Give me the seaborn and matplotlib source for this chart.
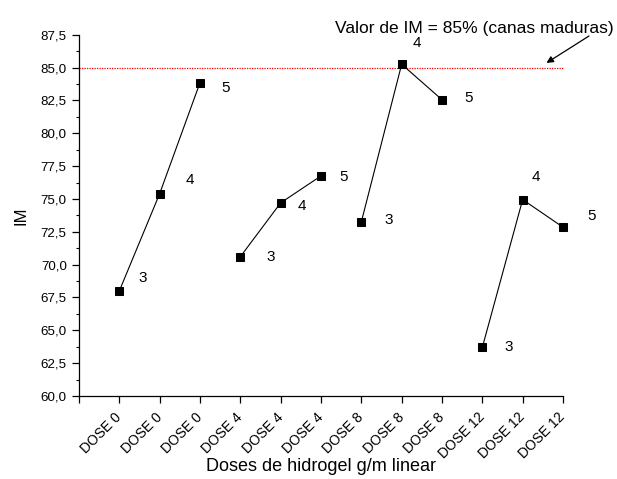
import matplotlib
matplotlib.use("Agg")
import matplotlib.pyplot as plt
import seaborn as sns
import pandas as pd
import numpy as np
from matplotlib.ticker import MultipleLocator, FixedLocator, FuncFormatter

# ---- data ----
categories = ["DOSE 0", "DOSE 0", "DOSE 0", "DOSE 4", "DOSE 4", "DOSE 4",
              "DOSE 8", "DOSE 8", "DOSE 8", "DOSE 12", "DOSE 12", "DOSE 12"]
im_values = [68.0, 75.4, 83.85, 70.6, 74.7, 76.75, 73.25, 85.25, 82.55,
             63.7, 74.95, 72.85]
point_labels = ["3", "4", "5", "3", "4", "5", "3", "4", "5", "3", "4", "5"]
reference_value = 85.0
reference_text = "Valor de IM = 85% (canas maduras)"

# label offsets (pixels, relative to each point)
label_offsets = [(23, 13), (30, 14), (26, -5), (30, 0), (21, -3), (23, -1),
                 (27, 2), (15, 21), (27, 2), (26, 0), (13, 23), (29, 11)]

sns.set_style("ticks")
plt.rcParams['font.family'] = ['Liberation Sans', 'DejaVu Sans']
plt.rcParams['text.color'] = 'black'
plt.rcParams['axes.labelcolor'] = 'black'
plt.rcParams['xtick.color'] = 'black'
plt.rcParams['ytick.color'] = 'black'

df = pd.DataFrame({
    "pos": np.arange(1, len(categories) + 1),
    "IM": im_values,
    "grupo": categories,
})

W, H = 617, 479
fig = plt.figure(figsize=(W / 100, H / 100), dpi=100)
ax = fig.add_axes([79 / W, 1 - 396 / H, (563 - 79) / W, (396 - 34.7) / H])

ax.axhline(reference_value, color="red", linestyle=(0, (1, 1)), linewidth=0.9, zorder=1)

sns.lineplot(data=df, x="pos", y="IM", hue="grupo", units="grupo", estimator=None,
             palette=["black"] * 4, legend=False, marker="s", markersize=5.8,
             markeredgecolor="black", linewidth=0.8, ax=ax, zorder=3)
for ln in ax.lines:
    ln.set_clip_on(False)

for (x, y, t, off) in zip(df["pos"], df["IM"], point_labels, label_offsets):
    ax.annotate(t, (x, y), xytext=off, textcoords="offset pixels",
                ha="center", va="center", fontsize=11, annotation_clip=False)

ax.annotate("", xy=(11.59, 85.35), xycoords="data",
            xytext=(589, H - 36), textcoords="figure pixels",
            arrowprops=dict(arrowstyle="-|>", color="black", lw=0.9,
                            mutation_scale=10, shrinkA=0, shrinkB=0),
            annotation_clip=False)
fig.text(614 / W, 1 - 28.5 / H, reference_text, ha="right", va="center", fontsize=12.5)

ax.set_xlim(0, 12)
ax.set_ylim(60, 87.5)
ax.xaxis.set_major_locator(FixedLocator(np.arange(0, 13)))
ax.set_xticklabels([""] + categories, rotation=45, ha="right", va="center",
                   rotation_mode="anchor", fontsize=10)
ax.yaxis.set_major_locator(MultipleLocator(2.5))
ax.yaxis.set_minor_locator(MultipleLocator(1.25))
ax.yaxis.set_major_formatter(FuncFormatter(lambda v, p: f"{v:.1f}".replace(".", ",")))
ax.tick_params(axis="y", which="major", length=4.8, width=0.9, labelsize=9.6, pad=4)
ax.tick_params(axis="y", which="minor", length=2.4, width=0.8)
ax.tick_params(axis="x", which="major", length=5, width=0.9, pad=8.5)

ax.set_xlabel("Doses de hidrogel g/m linear", fontsize=13, va="top")
ax.xaxis.set_label_coords(0.5, -(458 - 396) / (396 - 34.7))
ax.set_ylabel("IM", fontsize=12, labelpad=9)
sns.despine(ax=ax)
for s in ["left", "bottom"]:
    ax.spines[s].set_linewidth(0.9)
    ax.spines[s].set_color("black")

fig.savefig("out.png", dpi=100)
